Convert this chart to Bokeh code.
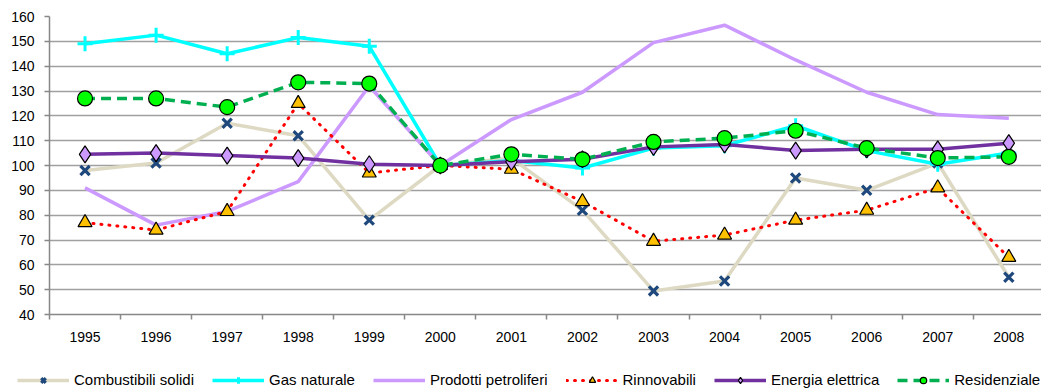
from bokeh.plotting import figure
from bokeh.models import Range1d, FixedTicker, Legend, LegendItem, ColumnDataSource
from bokeh.embed import file_html
from bokeh.resources import INLINE

years = ["1995", "1996", "1997", "1998", "1999", "2000", "2001",
         "2002", "2003", "2004", "2005", "2006", "2007", "2008"]
combustibili = [98, 101, 117, 112, 78, 100, 103, 82, 49.5, 53.5, 95, 90, 101, 55]
gas = [149, 152.5, 145, 151.5, 148, 100, 102, 99, 107, 108, 116, 106, 100.5, 105]
prodotti = [91, 76, 81.5, 93.5, 132, 100, 118.5, 129.5, 149.5, 156.5, 142.5, 129.5, 120.5, 119]
rinnovabili = [77, 74, 81.5, 125, 97, 100, 98.5, 85.5, 69.5, 72, 78, 82, 91, 63]
energia = [104.5, 105, 104, 103, 100.5, 100, 101.5, 102.5, 107.5, 108.5, 106, 106.5, 106.5, 109]
residenziale = [127, 127, 123.5, 133.5, 133, 100, 104.5, 102.5, 109.5, 111, 114, 107, 103, 103.5]
y_ticks = list(range(40, 161, 10))

FONT = "Liberation Sans"
xpos = [i + 0.5 for i in range(len(years))]
src = ColumnDataSource(dict(x=xpos, comb=combustibili, gas=gas, prod=prodotti,
                            rin=rinnovabili, ene=energia, res=residenziale))

p = figure(width=1041, height=345, output_backend="svg", toolbar_location=None,
           x_range=Range1d(0, 13.96), y_range=Range1d(40, 160),
           min_border_left=49, min_border_right=0, min_border_top=16, min_border_bottom=31)
p.outline_line_color = None
p.background_fill_color = "white"
p.border_fill_color = "white"

# axes
p.xaxis.ticker = FixedTicker(ticks=xpos, minor_ticks=list(range(len(years) + 1)))
p.xaxis.major_label_overrides = {x: y for x, y in zip(xpos, years)}
p.xaxis.major_tick_out = 0
p.xaxis.major_tick_in = 0
p.xaxis.minor_tick_out = 5
p.xaxis.minor_tick_in = 0
p.xaxis.minor_tick_line_color = "#888888"
p.xaxis.minor_tick_line_width = 1.5
p.xaxis.major_label_standoff = 12
p.xaxis.axis_line_color = "#888888"
p.xaxis.axis_line_width = 1.5

p.yaxis.ticker = FixedTicker(ticks=y_ticks, minor_ticks=[])
p.yaxis.major_tick_out = 5
p.yaxis.major_tick_in = 0
p.yaxis.major_tick_line_color = "#888888"
p.yaxis.major_tick_line_width = 1.5
p.yaxis.major_label_standoff = 10
p.yaxis.axis_line_color = "#888888"
p.yaxis.axis_line_width = 1.5

for ax in (p.xaxis, p.yaxis):
    ax.major_label_text_font = FONT
    ax.major_label_text_font_size = "14px"
    ax.major_label_text_color = "black"

p.xgrid.grid_line_color = None
p.ygrid.ticker = FixedTicker(ticks=y_ticks)
p.ygrid.grid_line_color = "#a0a0a0"
p.ygrid.grid_line_width = 1.5


def draw(fig, visible=True):
    r = {}
    r["l1"] = fig.line("x", "comb", source=src, line_color="#ddd9c3", line_width=3.5, visible=visible)
    r["m1"] = fig.scatter("x", "comb", source=src, marker="x", size=13, line_color="#1f497d",
                          line_width=3.2, visible=visible)
    r["l2"] = fig.line("x", "gas", source=src, line_color="#00ffff", line_width=3.5, visible=visible)
    r["m2"] = fig.scatter("x", "gas", source=src, marker="cross", size=15, line_color="#00ffff",
                          line_width=3, visible=visible)
    r["l3"] = fig.line("x", "prod", source=src, line_color="#cc99ff", line_width=3.5, visible=visible)
    r["l4"] = fig.line("x", "rin", source=src, line_color="#ff0000", line_width=3,
                       line_dash="1 7", line_cap="round", visible=visible)
    r["m4"] = fig.scatter("x", "rin", source=src, marker="triangle", size=14, fill_color="#ffc000",
                          line_color="black", line_width=1.2, visible=visible)
    r["l5"] = fig.line("x", "ene", source=src, line_color="#7030a0", line_width=3.5, visible=visible)
    r["m5"] = fig.scatter("x", "ene", source=src, marker="diamond", size=17, fill_color="#cc99ff",
                          line_color="black", line_width=1.2, visible=visible)
    r["l6"] = fig.line("x", "res", source=src, line_color="#00b050", line_width=3.5,
                       line_dash="10 6", visible=visible)
    r["m6"] = fig.scatter("x", "res", source=src, marker="circle", size=15, fill_color="#00ff00",
                          line_color="black", line_width=1.2, visible=visible)
    return r


draw(p)

# legend strip below the chart (separate root, so its frame is not aligned to the chart's)
lp = figure(width=1041, height=44, output_backend="svg", toolbar_location=None,
            x_range=Range1d(0, 1), y_range=Range1d(0, 1), min_border=0,
            min_border_left=0, min_border_right=0, min_border_top=0, min_border_bottom=0,
            x_axis_location=None, y_axis_location=None)
lp.grid.grid_line_color = None
lp.outline_line_color = None
lr = draw(lp, visible=False)

legend = Legend(items=[
    LegendItem(label="Combustibili solidi", renderers=[lr["l1"], lr["m1"]]),
    LegendItem(label="Gas naturale", renderers=[lr["l2"], lr["m2"]]),
    LegendItem(label="Prodotti petroliferi", renderers=[lr["l3"]]),
    LegendItem(label="Rinnovabili", renderers=[lr["l4"], lr["m4"]]),
    LegendItem(label="Energia elettrica", renderers=[lr["l5"], lr["m5"]]),
    LegendItem(label="Residenziale", renderers=[lr["l6"], lr["m6"]]),
], orientation="horizontal", location=(17, 1))
legend.label_text_font = FONT
legend.label_text_font_size = "15px"
legend.label_text_color = "black"
legend.glyph_width = 52
legend.glyph_height = 16
legend.label_height = 16
legend.label_standoff = 5
legend.spacing = 18
legend.padding = 0
legend.margin = 0
legend.border_line_color = None
legend.background_fill_alpha = 0
legend.inactive_fill_alpha = 0
legend.click_policy = "none"
lp.add_layout(legend, "center")

open("out.html", "w").write(file_html([p, lp], INLINE))
